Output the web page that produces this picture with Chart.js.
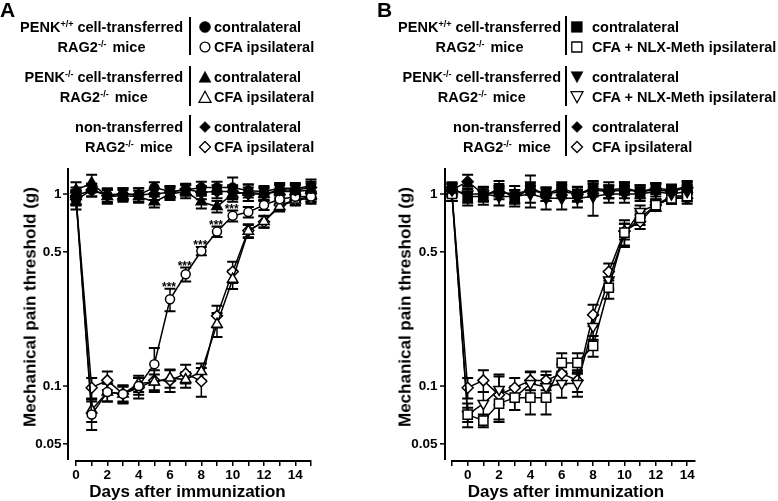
<!DOCTYPE html>
<html>
<head>
<meta charset="utf-8">
<script src="https://cdn.jsdelivr.net/npm/chart.js@4.4.0/dist/chart.umd.min.js"></script>
<style>
  body { margin: 0; background: #fff; }
  #page { position: relative; width: 778px; height: 501px; overflow: hidden; font-family: "Liberation Sans", Arial, sans-serif; font-weight: bold; color: #000; }
  canvas { position: absolute; top: 0; }
  .grp { position: absolute; text-align: center; font-size: 14.5px; line-height: 20px; white-space: nowrap; }
  .lab { position: absolute; font-size: 14.5px; line-height: 20px; white-space: nowrap; }
  sup { font-size: 9px; vertical-align: 5px; line-height: 0; }
  .mice { margin-left: 2px; }
  .bar { position: absolute; width: 2px; background: #000; }
  .panel { position: absolute; font-size: 21px; line-height: 1; }
  .ytitle { position: absolute; font-size: 17px; line-height: 1; white-space: nowrap; transform: translate(-50%, -50%) rotate(-90deg); }
  .xtitle { position: absolute; font-size: 17px; line-height: 1; white-space: nowrap; transform: translate(-50%, -50%); }
  svg.sym { position: absolute; overflow: visible; }
</style>
</head>
<body>
<div id="page">
  <canvas id="chartA" width="389" height="501" style="left:0"></canvas>
  <canvas id="chartB" width="389" height="501" style="left:389px"></canvas>

  <div class="panel" style="left:0;top:-1px">A</div>
  <div class="panel" style="left:377px;top:-1px">B</div>

  <!-- panel A legend -->
  <div class="grp" style="right:595px;top:17px">PENK<sup>+/+</sup> cell-transferred<br>RAG2<sup>-/-</sup><span class="mice"> mice</span></div>
  <div class="grp" style="right:595px;top:67px">PENK<sup>-/-</sup> cell-transferred<br>RAG2<sup>-/-</sup><span class="mice"> mice</span></div>
  <div class="grp" style="right:595px;top:116.5px">non-transferred<br>RAG2<sup>-/-</sup><span class="mice"> mice</span></div>
  <div class="bar" style="left:189px;top:17px;height:38px"></div>
  <div class="bar" style="left:189px;top:66px;height:40px"></div>
  <div class="bar" style="left:189px;top:115px;height:41px"></div>
  <div class="lab" style="left:214px;top:17px">contralateral<br>CFA ipsilateral</div>
  <div class="lab" style="left:214px;top:67px">contralateral<br>CFA ipsilateral</div>
  <div class="lab" style="left:214px;top:116.5px">contralateral<br>CFA ipsilateral</div>

  <!-- panel B legend -->
  <div class="grp" style="right:217px;top:17px">PENK<sup>+/+</sup> cell-transferred<br>RAG2<sup>-/-</sup><span class="mice"> mice</span></div>
  <div class="grp" style="right:217px;top:67px">PENK<sup>-/-</sup> cell-transferred<br>RAG2<sup>-/-</sup><span class="mice"> mice</span></div>
  <div class="grp" style="right:217px;top:116.5px">non-transferred<br>RAG2<sup>-/-</sup><span class="mice"> mice</span></div>
  <div class="bar" style="left:565px;top:16px;height:39px"></div>
  <div class="bar" style="left:565px;top:66px;height:40px"></div>
  <div class="bar" style="left:565px;top:115px;height:41px"></div>
  <div class="lab" style="left:592px;top:17px">contralateral<br>CFA + NLX-Meth ipsilateral</div>
  <div class="lab" style="left:592px;top:67px">contralateral<br>CFA + NLX-Meth ipsilateral</div>
  <div class="lab" style="left:592px;top:116.5px">contralateral<br>CFA ipsilateral</div>

  <div class="ytitle" style="left:29.5px;top:307px">Mechanical pain threshold (g)</div>
  <div class="ytitle" style="left:405px;top:307px">Mechanical pain threshold (g)</div>
  <div class="xtitle" style="left:187.5px;top:491px">Days after immunization</div>
  <div class="xtitle" style="left:566px;top:491px">Days after immunization</div>
</div>

<script>
// ---- data ----
const A_days = [0, 1, 2, 3, 4, 5, 6, 7, 8, 9, 10, 11, 12, 13, 14, 15];
const B_days = [-1, 0, 1, 2, 3, 4, 5, 6, 7, 8, 9, 10, 11, 12, 13, 14];
const A_xTicks = [0, 1, 2, 3, 4, 5, 6, 7, 8, 9, 10, 11, 12, 13, 14, 15];
const B_xTicks = [-1, 0, 1, 2, 3, 4, 5, 6, 7, 8, 9, 10, 11, 12, 13, 14];
const yTicks = [0.05, 0.1, 0.5, 1];

// panel A
const A_wtContra = [0.93, 1.05, 0.99, 1.00, 0.99, 1.08, 1.03, 1.05, 1.08, 1.08, 1.08, 1.04, 1.03, 1.07, 1.07, 1.10];
const A_wtContraErr = [0.10, 0.08, 0.08, 0.07, 0.08, 0.07, 0.07, 0.07, 0.08, 0.08, 0.14, 0.08, 0.07, 0.07, 0.07, 0.09];
const A_wtIpsi = [0.95, 0.071, 0.093, 0.091, 0.100, 0.130, 0.283, 0.382, 0.505, 0.637, 0.770, 0.805, 0.876, 0.938, 0.968, 0.97];
const A_wtIpsiErr = [0.08, 0.012, 0.010, 0.009, 0.010, 0.028, 0.038, 0.032, 0.025, 0.040, 0.050, 0.050, 0.050, 0.050, 0.050, 0.060];
const A_koContra = [1.05, 1.14, 0.97, 0.98, 0.97, 0.91, 1.00, 1.03, 0.91, 0.86, 1.00, 1.02, 1.00, 1.03, 1.03, 1.05];
const A_koContraErr = [0.10, 0.12, 0.08, 0.07, 0.07, 0.06, 0.07, 0.08, 0.07, 0.06, 0.09, 0.10, 0.08, 0.08, 0.08, 0.08];
const A_koIpsi = [0.97, 0.075, 0.093, 0.091, 0.103, 0.105, 0.110, 0.108, 0.119, 0.210, 0.360, 0.640, 0.720, 0.860, 0.930, 0.970];
const A_koIpsiErr = [0.08, 0.010, 0.010, 0.008, 0.010, 0.010, 0.012, 0.010, 0.012, 0.030, 0.040, 0.050, 0.050, 0.050, 0.050, 0.060];
const A_ntContra = [0.98, 1.05, 0.98, 1.00, 0.99, 1.00, 1.02, 1.06, 1.02, 1.03, 1.03, 1.00, 1.00, 1.05, 1.05, 1.08];
const A_ntContraErr = [0.10, 0.08, 0.08, 0.07, 0.08, 0.07, 0.07, 0.07, 0.08, 0.08, 0.08, 0.08, 0.07, 0.07, 0.07, 0.08];
const A_ntIpsi = [0.96, 0.098, 0.107, 0.091, 0.098, 0.107, 0.107, 0.116, 0.106, 0.232, 0.394, 0.645, 0.717, 0.876, 0.930, 0.950];
const A_ntIpsiErr = [0.08, 0.012, 0.012, 0.010, 0.012, 0.014, 0.014, 0.013, 0.018, 0.030, 0.050, 0.050, 0.050, 0.050, 0.060, 0.060];
const A_starDays = [6, 7, 8, 9, 10];

// panel B
const B_wtContra = [1.07, 0.97, 0.97, 1.07, 0.95, 1.07, 1.00, 1.07, 1.00, 1.07, 1.05, 1.07, 1.03, 1.07, 1.05, 1.09];
const B_wtContraErr = [0.08, 0.10, 0.09, 0.10, 0.09, 0.08, 0.08, 0.08, 0.09, 0.09, 0.10, 0.08, 0.08, 0.07, 0.07, 0.08];
const B_wtIpsi = [1.00, 0.071, 0.066, 0.081, 0.087, 0.087, 0.087, 0.132, 0.132, 0.162, 0.325, 0.630, 0.750, 0.876, 0.950, 0.976];
const B_wtIpsiErr = [0.08, 0.006, 0.005, 0.014, 0.012, 0.016, 0.016, 0.016, 0.016, 0.020, 0.040, 0.100, 0.060, 0.060, 0.060, 0.060];
const B_koContra = [1.05, 1.00, 1.00, 0.97, 0.97, 1.00, 0.95, 0.95, 0.95, 0.97, 1.00, 1.00, 1.00, 1.03, 1.00, 1.03];
const B_koContraErr = [0.08, 0.10, 0.09, 0.10, 0.08, 0.10, 0.12, 0.12, 0.10, 0.20, 0.10, 0.10, 0.08, 0.10, 0.08, 0.08];
const B_koIpsi = [1.00, 0.071, 0.081, 0.096, 0.087, 0.103, 0.099, 0.103, 0.103, 0.204, 0.357, 0.620, 0.810, 0.876, 0.976, 0.976];
const B_koIpsiErr = [0.08, 0.010, 0.012, 0.016, 0.012, 0.015, 0.015, 0.016, 0.015, 0.030, 0.040, 0.080, 0.060, 0.060, 0.060, 0.060];
const B_ntContra = [1.05, 1.16, 1.00, 1.02, 1.00, 1.05, 1.00, 1.03, 1.00, 1.05, 1.03, 1.05, 1.03, 1.05, 1.03, 1.08];
const B_ntContraErr = [0.08, 0.10, 0.08, 0.08, 0.10, 0.20, 0.08, 0.08, 0.08, 0.08, 0.08, 0.10, 0.08, 0.08, 0.08, 0.08];
const B_ntIpsi = [1.00, 0.098, 0.107, 0.090, 0.098, 0.107, 0.107, 0.116, 0.107, 0.235, 0.394, 0.640, 0.717, 0.876, 0.950, 0.950];
const B_ntIpsiErr = [0.08, 0.012, 0.014, 0.025, 0.012, 0.012, 0.012, 0.014, 0.014, 0.030, 0.040, 0.060, 0.060, 0.060, 0.060, 0.060];

const FONT = "'Liberation Sans', Arial, sans-serif";
const yMin = 0.0407, yMax = 1.366;
const radius = { circle: 4.5, triangle: 6, rectRot: 5.5, rect: 6.5 };

// legend symbols (drawn as svg shapes)
function addSymbol(cx, cy, shape, filled) {
  const ns = "http://www.w3.org/2000/svg";
  const svg = document.createElementNS(ns, "svg");
  svg.setAttribute("class", "sym");
  svg.setAttribute("width", 14); svg.setAttribute("height", 14);
  svg.style.left = (cx - 7) + "px"; svg.style.top = (cy - 7) + "px";
  let el;
  if (shape === "circle") {
    el = document.createElementNS(ns, "circle");
    el.setAttribute("cx", 7); el.setAttribute("cy", 7); el.setAttribute("r", filled ? 5.5 : 4.9);
  } else {
    el = document.createElementNS(ns, "polygon");
    const pts = {
      up: "7,1.3 13,12.3 1,12.3",
      down: "7,12.7 13,1.7 1,1.7",
      diamond: "7,1.5 12.5,7 7,12.5 1.5,7",
      square: filled ? "1.3,1.6 12.3,1.6 12.3,12.3 1.3,12.3" : "1.8,2 11.8,2 11.8,12 1.8,12"
    }[shape];
    el.setAttribute("points", pts);
  }
  el.setAttribute("fill", filled ? "#000" : "#fff");
  el.setAttribute("stroke", "#000");
  el.setAttribute("stroke-width", filled ? 0.5 : 1.3);
  svg.appendChild(el);
  document.getElementById("page").appendChild(svg);
}
addSymbol(204.5, 27, "circle", true);
addSymbol(204.5, 47, "circle", false);
addSymbol(204.5, 77, "up", true);
addSymbol(204.5, 97, "up", false);
addSymbol(204.5, 126.5, "diamond", true);
addSymbol(204.5, 147, "diamond", false);
addSymbol(577, 27, "square", true);
addSymbol(577, 47, "square", false);
addSymbol(577, 77, "down", true);
addSymbol(577, 97, "down", false);
addSymbol(577, 126.5, "diamond", true);
addSymbol(577, 147, "diamond", false);

function series(days, vals, errs, style, filled, rot, stars) {
  return {
    data: days.map((d, i) => ({ x: d, y: vals[i] })),
    errors: errs,
    stars: stars || [],
    pointStyle: style,
    pointRotation: rot || 0,
    pointRadius: radius[style],
    pointBackgroundColor: filled ? "#000" : "#fff",
    pointBorderColor: "#000",
    pointBorderWidth: 1.5,
    borderColor: "#000",
    borderWidth: 1.5,
    tension: 0,
    clip: false
  };
}

// offset y axis line (Prism style), drawn left of the plot area
const yAxisLine = {
  id: "yAxisLine",
  afterDraw(chart, args, opts) {
    const { ctx, chartArea, scales: { y } } = chart;
    const x0 = chartArea.left - opts.gap;
    ctx.save();
    ctx.strokeStyle = "#000";
    ctx.lineWidth = 2;
    ctx.beginPath();
    ctx.moveTo(x0, chartArea.top);
    ctx.lineTo(x0, chartArea.bottom - 1);
    ctx.stroke();
    ctx.lineWidth = 1.5;
    y.ticks.forEach(t => {
      const py = y.getPixelForValue(t.value);
      ctx.beginPath();
      ctx.moveTo(x0 - 5, py);
      ctx.lineTo(x0, py);
      ctx.stroke();
    });
    ctx.restore();
  }
};

const errorBars = {
  id: "errorBars",
  beforeDatasetsDraw(chart) {
    const { ctx, scales: { y } } = chart;
    ctx.save();
    ctx.strokeStyle = "#000";
    chart.data.datasets.forEach((ds, i) => {
      chart.getDatasetMeta(i).data.forEach((pt, j) => {
        const v = ds.data[j].y, e = ds.errors[j];
        const top = y.getPixelForValue(v + e);
        const bot = y.getPixelForValue(Math.max(v - e, 0.001));
        ctx.lineWidth = 1.5;
        ctx.beginPath();
        ctx.moveTo(pt.x, top); ctx.lineTo(pt.x, bot);
        ctx.stroke();
        ctx.lineWidth = 2;
        ctx.beginPath();
        ctx.moveTo(pt.x - 5.5, top); ctx.lineTo(pt.x + 5.5, top);
        ctx.moveTo(pt.x - 5.5, bot); ctx.lineTo(pt.x + 5.5, bot);
        ctx.stroke();
      });
    });
    ctx.restore();
  }
};

// "***" significance marks above the error bars
const stars = {
  id: "stars",
  afterDatasetsDraw(chart) {
    const { ctx, scales: { y } } = chart;
    ctx.save();
    ctx.fillStyle = "#000";
    ctx.font = "bold 12px " + FONT;
    ctx.textAlign = "center";
    ctx.textBaseline = "alphabetic";
    chart.data.datasets.forEach((ds, i) => {
      const meta = chart.getDatasetMeta(i);
      ds.stars.forEach(day => {
        const j = ds.data.findIndex(p => p.x === day);
        const pt = meta.data[j];
        const top = y.getPixelForValue(ds.data[j].y + ds.errors[j]);
        ctx.fillText("***", pt.x - 1, top + 2);
      });
    });
    ctx.restore();
  }
};

function makeChart(id, datasets, xMin, xMax, xTicks, yWidth, padRight, gap) {
  return new Chart(document.getElementById(id), {
    type: "line",
    data: { datasets },
    options: {
      responsive: false,
      animation: false,
      events: [],
      layout: { padding: { top: 168, right: padRight, left: 0, bottom: 0 } },
      plugins: { legend: { display: false }, tooltip: { enabled: false }, yAxisLine: { gap } },
      scales: {
        x: {
          type: "linear",
          min: xMin,
          max: xMax,
          afterFit: s => { s.height = 40; },
          afterBuildTicks: s => { s.ticks = xTicks.map(v => ({ value: v })); },
          grid: { drawOnChartArea: false, color: "#000", tickLength: 5, lineWidth: 1.5 },
          border: { color: "#000", width: 2 },
          ticks: {
            autoSkip: false, maxRotation: 0, padding: 1, color: "#000",
            font: { family: FONT, size: 13.5, weight: "bold" },
            callback: v => (v % 2 === 0 ? String(v) : "")
          }
        },
        y: {
          type: "logarithmic",
          min: yMin,
          max: yMax,
          afterFit: s => { s.width = yWidth; },
          afterBuildTicks: s => { s.ticks = yTicks.map(v => ({ value: v })); },
          grid: { display: false, drawTicks: false },
          border: { display: false },
          ticks: {
            padding: 14.5, color: "#000",
            font: { family: FONT, size: 13.5, weight: "bold" },
            callback: v => String(v)
          }
        }
      }
    },
    plugins: [yAxisLine, errorBars, stars]
  });
}

makeChart("chartA", [
  series(A_days, A_wtContra, A_wtContraErr, "circle", true),
  series(A_days, A_koContra, A_koContraErr, "triangle", true),
  series(A_days, A_ntContra, A_ntContraErr, "rectRot", true),
  series(A_days, A_wtIpsi, A_wtIpsiErr, "circle", false, 0, A_starDays),
  series(A_days, A_koIpsi, A_koIpsiErr, "triangle", false),
  series(A_days, A_ntIpsi, A_ntIpsiErr, "rectRot", false)
], 0, 15, A_xTicks, 76, 78, 8);

makeChart("chartB", [
  series(B_days, B_wtContra, B_wtContraErr, "rect", true),
  series(B_days, B_koContra, B_koContraErr, "triangle", true, 180),
  series(B_days, B_ntContra, B_ntContraErr, "rectRot", true),
  series(B_days, B_wtIpsi, B_wtIpsiErr, "rect", false),
  series(B_days, B_koIpsi, B_koIpsiErr, "triangle", false, 180),
  series(B_days, B_ntIpsi, B_ntIpsiErr, "rectRot", false)
], -1, 14.5, B_xTicks, 63, 83, 7);
</script>
</body>
</html>
